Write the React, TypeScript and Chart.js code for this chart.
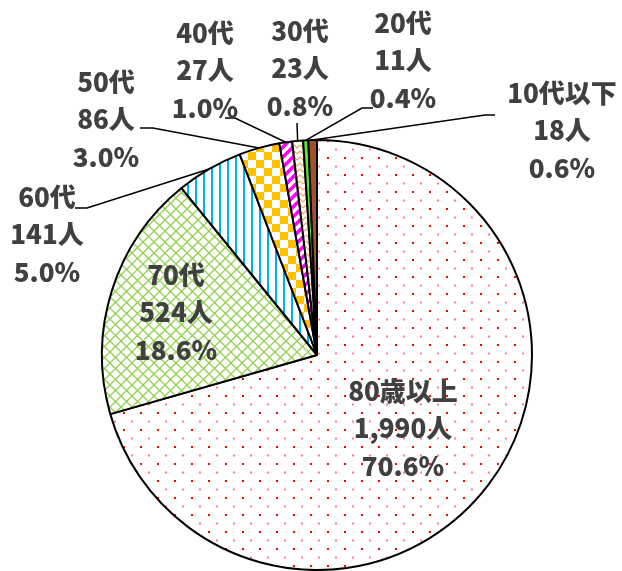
import React, { useEffect, useRef } from "react";
import { Chart, registerables } from "chart.js";

Chart.register(...registerables);

const categories = ["80歳以上", "70代", "60代", "50代", "40代", "30代", "20代", "10代以下"];
const counts = [1990, 524, 141, 86, 27, 23, 11, 18];
const countLabels = ["1,990人", "524人", "141人", "86人", "27人", "23人", "11人", "18人"];
const percentLabels = ["70.6%", "18.6%", "5.0%", "3.0%", "1.0%", "0.8%", "0.4%", "0.6%"];

// label layout (style only): first-line centre and leader-line start points
const labelLayout: { x: number; y: number; lead: number[][] | null }[] = [
  { x: 403, y: 391, lead: null },
  { x: 176, y: 275, lead: null },
  { x: 47, y: 197, lead: [[75, 208], [87, 208]] },
  { x: 106, y: 82, lead: [[140, 128], [153, 128]] },
  { x: 205, y: 33, lead: [[225, 118], [235, 118]] },
  { x: 300, y: 31, lead: [[297, 123]] },
  { x: 403, y: 23, lead: [[373, 108], [362, 108]] },
  { x: 562, y: 93, lead: [[495, 115], [485, 115]] },
];

function tile(w: number, h: number, draw: (c: CanvasRenderingContext2D) => void) {
  const cv = document.createElement("canvas");
  cv.width = w;
  cv.height = h;
  const c = cv.getContext("2d")!;
  c.fillStyle = "#ffffff";
  c.fillRect(0, 0, w, h);
  draw(c);
  return c.createPattern(cv, "repeat")!;
}

function makePatterns() {
  const dots = tile(17, 17, (c) => {
    c.fillStyle = "#ff0000";
    c.fillRect(4, 4, 2, 2);
    c.fillRect(12.5, 12.5, 1, 2);
  });
  const lattice = tile(11, 11, (c) => {
    c.strokeStyle = "#92d050";
    c.lineWidth = 1.3;
    c.beginPath();
    c.moveTo(-1, -1);
    c.lineTo(12, 12);
    c.moveTo(12, -1);
    c.lineTo(-1, 12);
    c.stroke();
  });
  const stripes = tile(8, 8, (c) => {
    c.fillStyle = "#00b0f0";
    c.fillRect(3, 0, 2, 8);
  });
  const checker = tile(16, 16, (c) => {
    c.fillStyle = "#ffc000";
    c.fillRect(0, 0, 8, 8);
    c.fillRect(8, 8, 8, 8);
  });
  const diag = tile(10, 10, (c) => {
    c.strokeStyle = "#ff00ff";
    c.lineWidth = 3.5;
    c.beginPath();
    c.moveTo(-2, 12);
    c.lineTo(12, -2);
    c.moveTo(-7, 7);
    c.lineTo(7, -7);
    c.moveTo(3, 17);
    c.lineTo(17, 3);
    c.stroke();
  });
  const zigzag = tile(6, 6, (c) => {
    c.strokeStyle = "#f4a460";
    c.lineWidth = 1.2;
    c.beginPath();
    c.moveTo(0, 1);
    c.lineTo(3, 4);
    c.lineTo(6, 1);
    c.stroke();
  });
  return [dots, lattice, stripes, checker, diag, zigzag, "#66e033", "#a0522d"];
}

const labelPlugin = {
  id: "pieLabels",
  afterDatasetsDraw(chart: any) {
    const ctx = chart.ctx as CanvasRenderingContext2D;
    const meta = chart.getDatasetMeta(0);
    ctx.save();
    meta.data.forEach((arc: any, i: number) => {
      const L = labelLayout[i];
      const { x, y, startAngle, endAngle, outerRadius } = arc.getProps(
        ["x", "y", "startAngle", "endAngle", "outerRadius"],
        true
      );
      const mid = (startAngle + endAngle) / 2;
      const ex = x + Math.cos(mid) * outerRadius;
      const ey = y + Math.sin(mid) * outerRadius;
      if (L.lead) {
        ctx.strokeStyle = "#000000";
        ctx.lineWidth = 1.5;
        ctx.beginPath();
        ctx.moveTo(L.lead[0][0], L.lead[0][1]);
        for (let k = 1; k < L.lead.length; k++) ctx.lineTo(L.lead[k][0], L.lead[k][1]);
        ctx.lineTo(ex, ey);
        ctx.stroke();
      }
      ctx.fillStyle = "#404040";
      ctx.font = '900 26px "Noto Sans CJK JP", sans-serif';
      ctx.textAlign = "center";
      ctx.textBaseline = "middle";
      const lines = [categories[i], countLabels[i], percentLabels[i]];
      lines.forEach((t, j) => ctx.fillText(t, L.x, L.y + j * 37.5));
    });
    ctx.restore();
  },
};

export default function App() {
  const ref = useRef<HTMLCanvasElement>(null);
  useEffect(() => {
    const chart = new Chart(ref.current!, {
      type: "pie",
      data: {
        labels: categories,
        datasets: [
          {
            data: counts,
            backgroundColor: makePatterns() as any,
            borderColor: "#000000",
            borderWidth: 2,
            clip: false as any,
          },
        ],
      },
      options: {
        responsive: false,
        animation: false,
        devicePixelRatio: 1,
        layout: { padding: { left: 101, right: 89, top: 139, bottom: 0 } },
        plugins: { legend: { display: false }, tooltip: { enabled: false } },
      },
      plugins: [labelPlugin],
    });
    return () => chart.destroy();
  }, []);
  return (
    <div style={{ position: "absolute", left: 0, top: 0, width: 622, height: 571, background: "#fff" }}>
      <canvas ref={ref} width={622} height={571} />
    </div>
  );
}
